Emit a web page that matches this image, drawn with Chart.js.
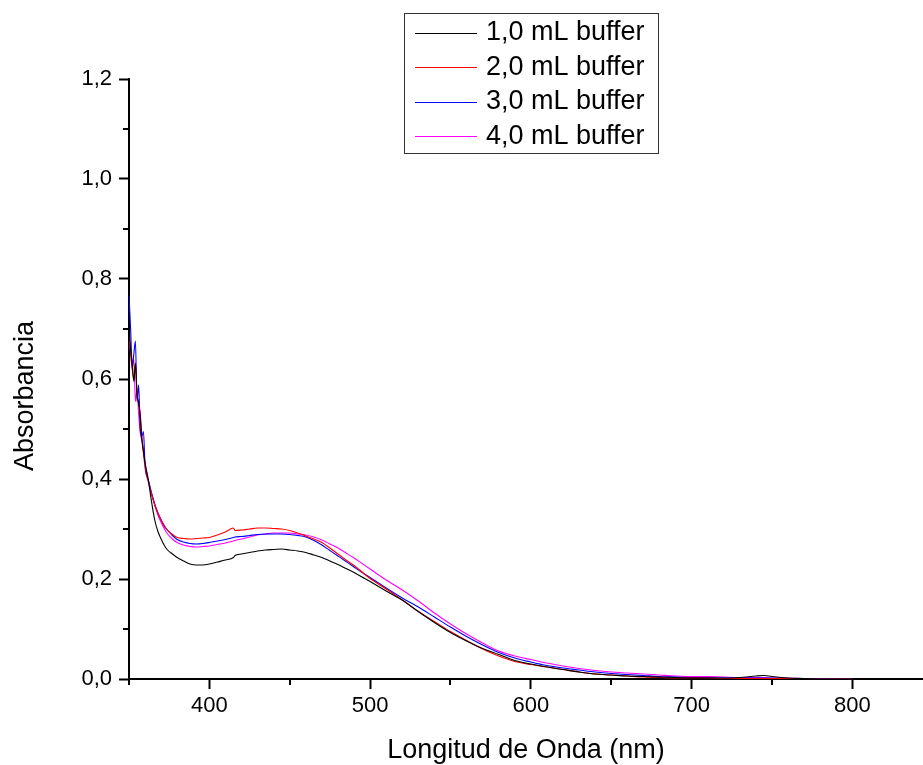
<!DOCTYPE html>
<html><head><meta charset="utf-8">
<script src="https://cdn.jsdelivr.net/npm/chart.js@4/dist/chart.umd.min.js"></script>
<style>html,body{margin:0;padding:0;background:#fff;}canvas{display:block;}</style>
</head><body>
<canvas id="c" width="923" height="765"></canvas>
<script>
const wavelengths = [350,351,352,353,354,355,356,357,358,359,360,362,364,366,368,370,372,374,377,380,384,388,392,396,400,405,410,415,416,420,425,430,435,440,445,450,455,460,465,470,475,480,485,490,495,500,510,520,530,540,550,560,570,580,590,600,610,620,630,640,650,660,670,680,690,700,710,720,730,740,745,750,760,770,780,790,800];

const buffer1 = [0.700,0.660,0.630,0.595,0.632,0.570,0.552,0.525,0.478,0.455,0.432,
  0.398,0.355,0.318,0.295,0.280,0.267,0.258,
  0.250,0.243,0.236,0.230,0.228,0.228,
  0.230,0.234,0.238,0.243,0.247,
  0.250,0.253,0.256,0.258,0.259,0.260,0.258,0.256,0.253,0.248,0.243,0.236,0.229,0.221,0.213,0.204,0.195,
  0.176,0.158,0.135,0.113,0.093,0.076,0.061,0.049,0.037,0.030,0.024,0.019,0.014,0.010,0.008,0.006,0.005,0.004,0.003,0.002,0.002,0.002,0.003,0.006,
  0.007,0.005,
  0.002,0.001,0.000,0.000,0.000];

const buffer2 = [0.690,0.655,0.620,0.600,0.630,0.570,0.550,0.530,0.485,0.450,0.425,
  0.395,0.370,0.348,0.332,0.318,0.307,0.297,
  0.289,0.283,0.281,0.280,0.281,0.282,
  0.283,0.288,0.294,0.302,0.297,
  0.298,0.300,0.302,0.302,0.301,0.300,0.297,0.292,0.286,0.280,0.273,0.262,0.250,0.238,0.227,0.214,0.201,
  0.180,0.158,0.135,0.115,0.095,0.077,0.060,0.046,0.035,0.029,0.024,0.019,0.014,0.010,0.008,0.006,0.004,0.003,0.002,0.002,0.002,0.001,0.001,0.001,
  0.001,0.001,
  0.001,0.000,0.000,0.000,0.000];

const buffer3 = [0.768,0.700,0.625,0.650,0.676,0.555,0.588,0.500,0.485,0.495,0.425,
  0.398,0.372,0.350,0.332,0.318,0.305,0.298,
  0.287,0.279,0.274,0.271,0.270,0.271,
  0.273,0.276,0.279,0.283,0.284,
  0.285,0.287,0.289,0.290,0.290,0.290,0.289,0.287,0.284,0.277,0.268,0.257,0.246,0.235,0.224,0.213,0.203,
  0.182,0.162,0.144,0.124,0.104,0.085,0.068,0.053,0.042,0.034,0.027,0.022,0.018,0.014,0.011,0.009,0.007,0.005,0.004,0.003,0.003,0.002,0.002,0.002,
  0.002,0.002,
  0.001,0.001,0.001,0.000,0.000];

const buffer4 = [0.685,0.652,0.620,0.640,0.555,0.580,0.530,0.492,0.478,0.460,0.432,
  0.398,0.372,0.348,0.328,0.313,0.300,0.290,
  0.280,0.273,0.268,0.265,0.264,0.265,
  0.266,0.269,0.272,0.276,0.277,
  0.280,0.284,0.288,0.290,0.292,0.292,0.292,0.290,0.288,0.284,0.278,0.270,0.262,0.252,0.242,0.231,0.220,
  0.198,0.178,0.156,0.132,0.110,0.090,0.072,0.056,0.046,0.039,0.032,0.026,0.021,0.017,0.014,0.012,0.010,0.008,0.006,0.005,0.005,0.004,0.003,0.003,
  0.003,0.002,
  0.002,0.001,0.001,0.000,0.000];

const seriesLabels = ['1,0 mL buffer','2,0 mL buffer','3,0 mL buffer','4,0 mL buffer'];
const seriesColors = ['#000000','#ff0000','#0000ff','#ff00ff'];
const seriesValues = [buffer1, buffer2, buffer3, buffer4];

const xTickValues = [400,500,600,700,800];
const xMinorTicks = [350,450,550,650,750];
const yTickValues = [0,0.2,0.4,0.6,0.8,1.0,1.2];
const yMinorTicks = [0.1,0.3,0.5,0.7,0.9,1.1];
const xTitle = 'Longitud de Onda (nm)';
const yTitle = 'Absorbancia';

const FONT = "'Liberation Sans', Arial, Helvetica, sans-serif";

const extras = {
  id: 'extras',
  afterDraw(chart) {
    const ctx = chart.ctx, xs = chart.scales.x, ys = chart.scales.y, a = chart.chartArea;
    ctx.save();
    // minor ticks
    ctx.strokeStyle = '#000'; ctx.lineWidth = 2;
    ctx.beginPath();
    xMinorTicks.forEach(v => { const px = Math.round(xs.getPixelForValue(v)); ctx.moveTo(px, a.bottom); ctx.lineTo(px, a.bottom + 6); });
    yMinorTicks.forEach(v => { const py = Math.round(ys.getPixelForValue(v)); ctx.moveTo(a.left, py); ctx.lineTo(a.left - 6, py); });
    ctx.stroke();
    // axis titles
    ctx.fillStyle = '#000';
    ctx.font = '27px ' + FONT;
    ctx.textAlign = 'center';
    ctx.textBaseline = 'alphabetic';
    ctx.fillText(xTitle, (a.left + a.right) / 2, 758);
    ctx.save();
    ctx.translate(33, (a.top + a.bottom) / 2 + 17);
    ctx.rotate(-Math.PI / 2);
    ctx.fillText(yTitle, 0, 0);
    ctx.restore();
    // legend
    ctx.strokeStyle = '#333'; ctx.lineWidth = 1;
    ctx.strokeRect(404.5, 13.5, 254, 140);
    ctx.textAlign = 'left'; ctx.textBaseline = 'middle';
    chart.data.datasets.forEach((ds, i) => {
      const y = 33 + i * 34.4;
      ctx.strokeStyle = ds.borderColor; ctx.lineWidth = 1.2;
      ctx.beginPath(); ctx.moveTo(415, Math.round(y) + 0.5); ctx.lineTo(477, Math.round(y) + 0.5); ctx.stroke();
      ctx.fillStyle = '#000';
      ctx.fillText(ds.label, 486, y);
    });
    ctx.restore();
  }
};

new Chart(document.getElementById('c'), {
  type: 'line',
  data: {
    labels: wavelengths,
    datasets: seriesLabels.map((lab, i) => ({
      label: lab,
      data: wavelengths.map((w, j) => ({x: w, y: seriesValues[i][j]})),
      borderColor: seriesColors[i],
      backgroundColor: seriesColors[i],
      borderWidth: 1.1,
      pointRadius: 0,
      fill: false,
      tension: 0,
      cubicInterpolationMode: 'monotone'
    }))
  },
  options: {
    responsive: false,
    animation: false,
    devicePixelRatio: 1,
    layout: { padding: { top: 79, left: 0, right: 0, bottom: 0 } },
    plugins: { legend: { display: false }, tooltip: { enabled: false }, title: { display: false } },
    scales: {
      x: {
        type: 'linear',
        min: 350, max: 844,
        afterBuildTicks: s => { s.ticks = xTickValues.map(v => ({value: v})); },
        afterFit: s => { s.height = 86; },
        ticks: { autoSkip: false, maxRotation: 0, padding: 4, color: '#000', font: { family: FONT, size: 22 }, callback: v => String(v) },
        grid: { display: true, drawOnChartArea: false, drawTicks: true, tickLength: 10, tickWidth: 2, tickColor: '#000' },
        border: { display: true, color: '#000', width: 2 }
      },
      y: {
        type: 'linear',
        min: 0, max: 1.2,
        afterBuildTicks: s => { s.ticks = yTickValues.map(v => ({value: v})); },
        afterFit: s => { s.width = 129; },
        ticks: { padding: 7, color: '#000', font: { family: FONT, size: 22 }, callback: v => v.toFixed(1).replace('.', ',') },
        grid: { display: true, drawOnChartArea: false, drawTicks: true, tickLength: 10, tickWidth: 2, tickColor: '#000' },
        border: { display: true, color: '#000', width: 2 }
      }
    }
  },
  plugins: [extras]
});
</script>
</body></html>
